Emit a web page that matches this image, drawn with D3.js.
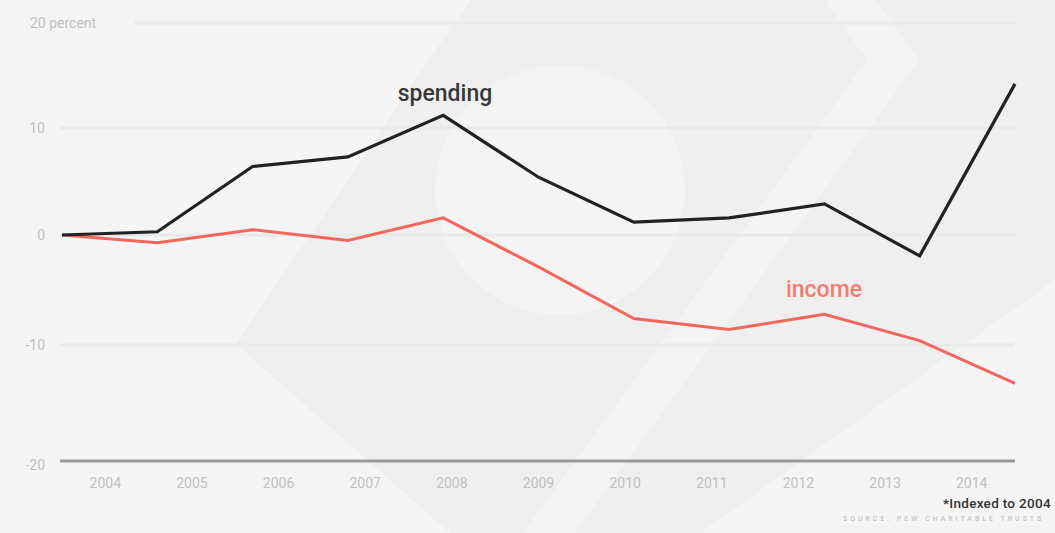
<!DOCTYPE html>
<html>
<head>
<meta charset="utf-8">
<script src="https://cdn.jsdelivr.net/npm/d3@7"></script>
<style>
  html, body { margin: 0; padding: 0; background: #f5f5f5; }
  svg { display: block; }
</style>
</head>
<body>
<svg id="chart" width="1055" height="533"></svg>
<script>
// ---- data ----
const years = ["2004","2005","2006","2007","2008","2009","2010","2011","2012","2013","2014"];
const spending = [0, 0.3, 6.4, 7.3, 11.2, 5.4, 1.2, 1.6, 2.9, -1.9, 14.2];
const income   = [0, -0.7, 0.5, -0.5, 1.6, -2.9, -7.6, -8.6, -7.2, -9.6, -13.3];
const yTicks = [20, 10, 0, -10, -20];
const yTickLabels = ["20 percent", "10", "0", "-10", "-20"];
const seriesNames = ["spending", "income"];
const footnote = "*Indexed to 2004";
const sourceText = "SOURCE: PEW CHARITABLE TRUSTS";

const W = 1055, H = 533;
const svg = d3.select("#chart");

// ---- background watermark ----
const bg = svg.append("g");
bg.append("rect").attr("width", W).attr("height", H).attr("fill", "#f5f5f5");
bg.append("path")
  .attr("d", "M236,344 L470,0 L1055,0 L1055,280 L700,533 L450,533 Z")
  .attr("fill", "#efefef");
bg.append("circle").attr("cx", 560).attr("cy", 190).attr("r", 125).attr("fill", "#f4f4f4");
bg.append("path")
  .attr("d", "M843,-10 L893,60 L540,545")
  .attr("fill", "none").attr("stroke", "#f4f4f4").attr("stroke-width", 42)
  .attr("stroke-linejoin", "miter");

// ---- scales ----
const x0 = 62, x1 = 1015;
const xPoint = d3.scalePoint().domain(years).range([x0, x1]);
const xBand = d3.scaleBand().domain(years).range([x0, x1]);
const y = d3.scaleLinear().domain([-20, -10, 0, 10, 20]).range([461, 345, 235, 128, 23]);

// ---- gridlines ----
const grid = svg.append("g");
yTicks.filter(t => t > -20).forEach(t => {
  grid.append("line")
    .attr("x1", t === 20 ? 135 : x0 - 2).attr("x2", x1)
    .attr("y1", y(t)).attr("y2", y(t))
    .attr("stroke", "#e9e9e9").attr("stroke-width", 3);
});

// ---- y labels via axis ----
const yAxis = d3.axisLeft(y).tickValues(yTicks)
  .tickFormat(d => yTickLabels[yTicks.indexOf(d)]).tickSize(0).tickPadding(0);
const gy = svg.append("g").attr("transform", "translate(45,0)").call(yAxis);
gy.select(".domain").remove();
gy.selectAll("text")
  .attr("fill", "#c0c0c0").attr("font-family", "Roboto, sans-serif").attr("font-size", 14)
  .attr("dy", "0.35em")
  .each(function(d) {
    if (d === 20) d3.select(this).attr("text-anchor", "start").attr("x", -15);
    if (d === -20) d3.select(this).attr("dy", "0.6em");
  });

// ---- x axis ----
const xAxis = d3.axisBottom(xBand).tickSize(0).tickPadding(0);
const gx = svg.append("g").attr("transform", `translate(0,${y(-20)})`).call(xAxis);
gx.select(".domain").remove();
gx.append("line").attr("x1", x0 - 2).attr("x2", x1).attr("y1", 0).attr("y2", 0)
  .attr("stroke", "#9a9a9a").attr("stroke-width", 3);
gx.selectAll(".tick text")
  .attr("y", 22).attr("dy", "0.35em")
  .attr("fill", "#c0c0c0").attr("font-family", "Roboto, sans-serif").attr("font-size", 14);

// ---- lines ----
const line = d3.line().x((d, i) => xPoint(years[i])).y(d => y(d));
svg.append("path").datum(income).attr("d", line)
  .attr("fill", "none").attr("stroke", "#f2675d").attr("stroke-width", 3)
  .attr("stroke-linejoin", "miter");
svg.append("path").datum(spending).attr("d", line)
  .attr("fill", "none").attr("stroke", "#222222").attr("stroke-width", 3.2)
  .attr("stroke-linejoin", "miter");

// ---- series labels ----
svg.append("text").text(seriesNames[0])
  .attr("x", 445).attr("y", 93).attr("dy", "0.35em").attr("text-anchor", "middle")
  .attr("font-family", "Roboto, sans-serif").attr("font-weight", 500).attr("font-size", 23)
  .attr("fill", "#383838");
svg.append("text").text(seriesNames[1])
  .attr("x", 824).attr("y", 289).attr("dy", "0.35em").attr("text-anchor", "middle")
  .attr("font-family", "Roboto, sans-serif").attr("font-weight", 500).attr("font-size", 23)
  .attr("fill", "#f27b72");

// ---- footnotes ----
svg.append("text").text(footnote)
  .attr("x", 943).attr("y", 503).attr("dy", "0.35em")
  .attr("font-family", "Roboto, sans-serif").attr("font-weight", 500)
  .attr("font-size", 13.5).attr("letter-spacing", 0.3).attr("fill", "#333333");
svg.append("text").text(sourceText)
  .attr("x", 843).attr("y", 519).attr("dy", "0.35em")
  .attr("font-family", "Roboto, sans-serif").attr("font-size", 7)
  .attr("letter-spacing", 3).attr("fill", "#b5b5b5");
</script>
</body>
</html>
